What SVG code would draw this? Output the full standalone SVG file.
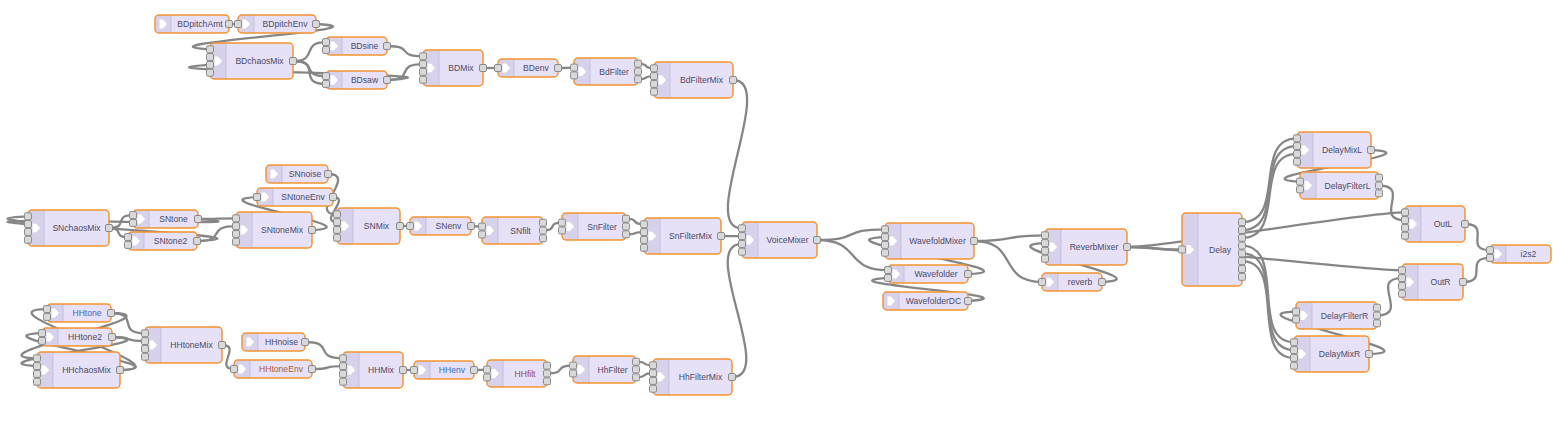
<svg xmlns="http://www.w3.org/2000/svg" xmlns:xlink="http://www.w3.org/1999/xlink" width="1568" height="440" viewBox="0 0 1568 440">
<style>
.b{fill:#e6e1f7}
.o{fill:none;stroke:#f5922f;stroke-width:1.5}
.ic{fill:#d7d1ec}
.dv{stroke:#c6bfdf;stroke-width:1;fill:none}
.w{fill:none;stroke:#868686;stroke-width:2.3}
.t{font-family:"Liberation Sans",Arial,sans-serif;font-size:8.6px;fill:#4c4a66;text-anchor:middle;dominant-baseline:central;font-variant-ligatures:none}
.blue{fill:#3f68c2}
.brn{fill:#b0601f}
.red{fill:#a04536}
</style>
<defs>
<rect id="p" x="-3.5" y="-3.5" width="7" height="7" rx="1.5" fill="#d9d9d9" stroke="#8a8a8a" stroke-width="1"/>
<path id="ar" d="M-3.5,-4.5H0L4,0L0,4.5H-3.5Z" fill="#ffffff"/>
<g id="ic18"><path class="ic" d="M4,0H16V18H4A4,4 0 0 1 0,14V4A4,4 0 0 1 4,0Z"/><path class="dv" d="M16,0V18"/><use href="#ar" x="8" y="9"/></g>
<g id="ic27"><path class="ic" d="M4,0H16V27H4A4,4 0 0 1 0,23V4A4,4 0 0 1 4,0Z"/><path class="dv" d="M16,0V27"/><use href="#ar" x="8" y="13.5"/></g>
<g id="ic36"><path class="ic" d="M4,0H16V36H4A4,4 0 0 1 0,32V4A4,4 0 0 1 4,0Z"/><path class="dv" d="M16,0V36"/><use href="#ar" x="8" y="18"/></g>
<g id="ic73"><path class="ic" d="M4,0H16V73H4A4,4 0 0 1 0,69V4A4,4 0 0 1 4,0Z"/><path class="dv" d="M16,0V73"/><use href="#ar" x="8" y="36.5"/></g>
<g id="in4"><use href="#p" y="6.3"/><use href="#p" y="14.1"/><use href="#p" y="21.9"/><use href="#p" y="29.7"/></g>
<g id="in2s"><use href="#p" y="5.1"/><use href="#p" y="12.9"/></g>
<g id="in2m"><use href="#p" y="9.6"/><use href="#p" y="17.4"/></g>
<g id="out3"><use href="#p" y="5.7"/><use href="#p" y="13.5"/><use href="#p" y="21.3"/></g>
</defs>

<g id="connectors">
<path class="w" d="M229 24 C235.75 24 231.25 24 238 24"/>
<path class="w" d="M316 24 C403.4 28.8 122.6 44.5 210 49.3"/>
<path class="w" d="M293 61 C319 61 300 42.1 326 42.1"/>
<path class="w" d="M293 61 C320.2 61 298.8 76.1 326 76.1"/>
<path class="w" d="M293 61 C323.1 61 295.9 83.9 326 83.9"/>
<path class="w" d="M387 46 C415.1 46 394.9 56.3 423 56.3"/>
<path class="w" d="M387 80 C416.5 80 393.5 64.1 423 64.1"/>
<path class="w" d="M387 80 C502.8 73.5 94.2 71.4 210 64.9"/>
<path class="w" d="M483 68 C494 68 487 68 498 68"/>
<path class="w" d="M558 68 C570 68 562 67.6 574 67.6"/>
<path class="w" d="M638 63.7 C650.5 63.7 641.5 68.3 654 68.3"/>
<path class="w" d="M638 79.3 C650.2 79.3 641.8 76.1 654 76.1"/>
<path class="w" d="M733 80 C778 80 697 228.3 742 228.3"/>

<path class="w" d="M109 228 C129.4 228 112.6 215.1 133 215.1"/>
<path class="w" d="M109 228 C124.8 228 112.2 237.1 128 237.1"/>
<path class="w" d="M198 219 C226.5 219 207.5 218.3 236 218.3"/>
<path class="w" d="M197 241 C228.3 241 204.7 226.1 236 226.1"/>
<path class="w" d="M197 241 C309.6 236.1 -84.6 221.2 28 216.3"/>
<path class="w" d="M198 219 C311 227.2 -85 216 28 224.1"/>
<path class="w" d="M312 230 C379 226.8 190 200.2 257 197"/>
<path class="w" d="M328 174 C359 174 306 214.3 337 214.3"/>
<path class="w" d="M333 197 C352.1 197 317.9 222.1 337 222.1"/>
<path class="w" d="M400 226 C407.5 226 402.5 226 410 226"/>
<path class="w" d="M471 226 C479 226 474 226.6 482 226.6"/>
<path class="w" d="M543 230.5 C558.4 230.5 546.6 222.6 562 222.6"/>
<path class="w" d="M626 218.7 C640.1 218.7 629.9 224.3 644 224.3"/>
<path class="w" d="M626 234.3 C639.6 234.3 630.4 232.1 644 232.1"/>
<path class="w" d="M721 236 C736.75 236 726.25 236.1 742 236.1"/>

<path class="w" d="M120 370 C194.2 370 -27.2 309.1 47 309.1"/>
<path class="w" d="M120 370 C196.2 367.15 -34.2 335.95 42 333.1"/>
<path class="w" d="M111 313 C140.7 313 115.3 333.3 145 333.3"/>
<path class="w" d="M112 337 C137 337 120 341.1 145 341.1"/>
<path class="w" d="M111 313 C185.6 314.45 -37.6 356.85 37 358.3"/>
<path class="w" d="M112 337 C187 341.15 -38 361.95 37 366.1"/>
<path class="w" d="M222 345 C242.1 345 213.9 369 234 369"/>
<path class="w" d="M305 342 C336 342 312 358.3 343 358.3"/>
<path class="w" d="M312 369 C335.3 369 319.7 366.1 343 366.1"/>
<path class="w" d="M403 370 C411 370 406 370 414 370"/>
<path class="w" d="M474 370 C483.5 370 477.5 369.6 487 369.6"/>
<path class="w" d="M547 373.5 C567.4 373.5 552.6 365.6 573 365.6"/>
<path class="w" d="M636 361.7 C649 361.7 640 365.3 653 365.3"/>
<path class="w" d="M636 377.3 C649.1 377.3 639.9 373.1 653 373.1"/>
<path class="w" d="M732 377 C777 377 697 243.9 742 243.9"/>

<path class="w" d="M817 240 C862 240 840 229.3 885 229.3"/>
<path class="w" d="M817 240 C862 240 843 270.1 888 270.1"/>
<path class="w" d="M968 274 C1046.2 271.15 806.8 239.95 885 237.1"/>
<path class="w" d="M968 301 C1045 295.85 811 283.05 888 277.9"/>
<path class="w" d="M974 241 C1019 241 1000 235.3 1045 235.3"/>
<path class="w" d="M974 241 C1019 241 997 282 1042 282"/>
<path class="w" d="M1102 282 C1169.8 279.6 977.2 245.5 1045 243.1"/>
<path class="w" d="M1127 247 C1168.3 247 1140.7 249.5 1182 249.5"/>
<path class="w" d="M1127 247 C1172 247 1360 212.3 1405 212.3"/>
<path class="w" d="M1127 247 C1172 247 1357 270.3 1402 270.3"/>

<path class="w" d="M1242 222.2 C1287 222.2 1252 138.3 1297 138.3"/>
<path class="w" d="M1242 230 C1287 230 1252 146.1 1297 146.1"/>
<path class="w" d="M1242 237.8 C1287 237.8 1252 153.9 1297 153.9"/>
<path class="w" d="M1242 245.6 C1287 245.6 1249 342.3 1294 342.3"/>
<path class="w" d="M1242 253.4 C1287 253.4 1249 350.1 1294 350.1"/>
<path class="w" d="M1242 261.2 C1287 261.2 1249 357.9 1294 357.9"/>
<path class="w" d="M1371 150 C1444.4 153.73 1226.6 177.87 1300 181.6"/>
<path class="w" d="M1379 185.5 C1411.5 185.5 1372.5 220.1 1405 220.1"/>
<path class="w" d="M1369 354 C1443.2 352.07 1221.8 313.53 1296 311.6"/>
<path class="w" d="M1377 315.5 C1410.7 315.5 1368.3 278.1 1402 278.1"/>
<path class="w" d="M1465 224 C1492.1 224 1462.9 250.1 1490 250.1"/>
<path class="w" d="M1463 282 C1490.1 282 1462.9 257.9 1490 257.9"/>
</g>

<g id="BDpitchAmt" transform="translate(155,15)"><rect class="b" width="74" height="18" rx="4"/><use href="#ic18"/><rect class="o" width="74" height="18" rx="4"/><text class="t" x="45" y="9">BDpitchAmt</text><use href="#p" x="74" y="9"/></g>
<g id="BDpitchEnv" transform="translate(238,15)"><rect class="b" width="78" height="18" rx="4"/><use href="#ic18"/><rect class="o" width="78" height="18" rx="4"/><text class="t" x="47" y="9">BDpitchEnv</text><use href="#p" y="9"/><use href="#p" x="78" y="9"/></g>
<g id="BDchaosMix" transform="translate(210,43)"><rect class="b" width="83" height="36" rx="4"/><use href="#ic36"/><rect class="o" width="83" height="36" rx="4"/><text class="t" x="49.5" y="18">BDchaosMix</text><use href="#in4"/><use href="#p" x="83" y="18"/></g>
<g id="BDsine" transform="translate(326,37)"><rect class="b" width="61" height="18" rx="4"/><use href="#ic18"/><rect class="o" width="61" height="18" rx="4"/><text class="t" x="38.5" y="9">BDsine</text><use href="#in2s"/><use href="#p" x="61" y="9"/></g>
<g id="BDsaw" transform="translate(326,71)"><rect class="b" width="61" height="18" rx="4"/><use href="#ic18"/><rect class="o" width="61" height="18" rx="4"/><text class="t" x="38.5" y="9">BDsaw</text><use href="#in2s"/><use href="#p" x="61" y="9"/></g>
<g id="BDMix" transform="translate(423,50)"><rect class="b" width="60" height="36" rx="4"/><use href="#ic36"/><rect class="o" width="60" height="36" rx="4"/><text class="t" x="38" y="18">BDMix</text><use href="#in4"/><use href="#p" x="60" y="18"/></g>
<g id="BDenv" transform="translate(498,59)"><rect class="b" width="60" height="18" rx="4"/><use href="#ic18"/><rect class="o" width="60" height="18" rx="4"/><text class="t" x="38" y="9">BDenv</text><use href="#p" y="9"/><use href="#p" x="60" y="9"/></g>
<g id="BdFilter" transform="translate(574,58)"><rect class="b" width="64" height="27" rx="4"/><use href="#ic27"/><rect class="o" width="64" height="27" rx="4"/><text class="t" x="40" y="13.5">BdFilter</text><use href="#in2m"/><use href="#out3" x="64"/></g>
<g id="BdFilterMix" transform="translate(654,62)"><rect class="b" width="79" height="36" rx="4"/><use href="#ic36"/><rect class="o" width="79" height="36" rx="4"/><text class="t" x="47.5" y="18">BdFilterMix</text><use href="#in4"/><use href="#p" x="79" y="18"/></g>

<g id="SNchaosMix" transform="translate(28,210)"><rect class="b" width="81" height="36" rx="4"/><use href="#ic36"/><rect class="o" width="81" height="36" rx="4"/><text class="t" x="48.5" y="18">SNchaosMix</text><use href="#in4"/><use href="#p" x="81" y="18"/></g>
<g id="SNtone" transform="translate(133,210)"><rect class="b" width="65" height="18" rx="4"/><use href="#ic18"/><rect class="o" width="65" height="18" rx="4"/><text class="t" x="40.5" y="9">SNtone</text><use href="#in2s"/><use href="#p" x="65" y="9"/></g>
<g id="SNtone2" transform="translate(128,232)"><rect class="b" width="69" height="18" rx="4"/><use href="#ic18"/><rect class="o" width="69" height="18" rx="4"/><text class="t" x="42.5" y="9">SNtone2</text><use href="#in2s"/><use href="#p" x="69" y="9"/></g>
<g id="SNtoneMix" transform="translate(236,212)"><rect class="b" width="76" height="36" rx="4"/><use href="#ic36"/><rect class="o" width="76" height="36" rx="4"/><text class="t" x="46" y="18">SNtoneMix</text><use href="#in4"/><use href="#p" x="76" y="18"/></g>
<g id="SNnoise" transform="translate(266,165)"><rect class="b" width="62" height="18" rx="4"/><use href="#ic18"/><rect class="o" width="62" height="18" rx="4"/><text class="t" x="39" y="9">SNnoise</text><use href="#p" x="62" y="9"/></g>
<g id="SNtoneEnv" transform="translate(257,188)"><rect class="b" width="76" height="18" rx="4"/><use href="#ic18"/><rect class="o" width="76" height="18" rx="4"/><text class="t" x="46" y="9">SNtoneEnv</text><use href="#p" y="9"/><use href="#p" x="76" y="9"/></g>
<g id="SNMix" transform="translate(337,208)"><rect class="b" width="63" height="36" rx="4"/><use href="#ic36"/><rect class="o" width="63" height="36" rx="4"/><text class="t" x="39.5" y="18">SNMix</text><use href="#in4"/><use href="#p" x="63" y="18"/></g>
<g id="SNenv" transform="translate(410,217)"><rect class="b" width="61" height="18" rx="4"/><use href="#ic18"/><rect class="o" width="61" height="18" rx="4"/><text class="t" x="38.5" y="9">SNenv</text><use href="#p" y="9"/><use href="#p" x="61" y="9"/></g>
<g id="SNfilt" transform="translate(482,217)"><rect class="b" width="61" height="27" rx="4"/><use href="#ic27"/><rect class="o" width="61" height="27" rx="4"/><text class="t" x="38.5" y="13.5">SNfilt</text><use href="#in2m"/><use href="#out3" x="61"/></g>
<g id="SnFilter" transform="translate(562,213)"><rect class="b" width="64" height="27" rx="4"/><use href="#ic27"/><rect class="o" width="64" height="27" rx="4"/><text class="t" x="40" y="13.5">SnFilter</text><use href="#in2m"/><use href="#out3" x="64"/></g>
<g id="SnFilterMix" transform="translate(644,218)"><rect class="b" width="77" height="36" rx="4"/><use href="#ic36"/><rect class="o" width="77" height="36" rx="4"/><text class="t" x="46.5" y="18">SnFilterMix</text><use href="#in4"/><use href="#p" x="77" y="18"/></g>

<g id="HHtone" transform="translate(47,304)"><rect class="b" width="64" height="18" rx="4"/><use href="#ic18"/><rect class="o" width="64" height="18" rx="4"/><text class="t blue" x="40" y="9">HHtone</text><use href="#in2s"/><use href="#p" x="64" y="9"/></g>
<g id="HHtone2" transform="translate(42,328)"><rect class="b" width="70" height="18" rx="4"/><use href="#ic18"/><rect class="o" width="70" height="18" rx="4"/><text class="t" x="43" y="9">HHtone2</text><use href="#in2s"/><use href="#p" x="70" y="9"/></g>
<g id="HHchaosMix" transform="translate(37,352)"><rect class="b" width="83" height="36" rx="4"/><use href="#ic36"/><rect class="o" width="83" height="36" rx="4"/><text class="t" x="49.5" y="18">HHchaosMix</text><use href="#in4"/><use href="#p" x="83" y="18"/></g>
<g id="HHtoneMix" transform="translate(145,327)"><rect class="b" width="77" height="36" rx="4"/><use href="#ic36"/><rect class="o" width="77" height="36" rx="4"/><text class="t" x="46.5" y="18">HHtoneMix</text><use href="#in4"/><use href="#p" x="77" y="18"/></g>
<g id="HHnoise" transform="translate(242,333)"><rect class="b" width="63" height="18" rx="4"/><use href="#ic18"/><rect class="o" width="63" height="18" rx="4"/><text class="t" x="39.5" y="9">HHnoise</text><use href="#p" x="63" y="9"/></g>
<g id="HHtoneEnv" transform="translate(234,360)"><rect class="b" width="78" height="18" rx="4"/><use href="#ic18"/><rect class="o" width="78" height="18" rx="4"/><text class="t brn" x="47" y="9">HHtoneEnv</text><use href="#p" y="9"/><use href="#p" x="78" y="9"/></g>
<g id="HHMix" transform="translate(343,352)"><rect class="b" width="60" height="36" rx="4"/><use href="#ic36"/><rect class="o" width="60" height="36" rx="4"/><text class="t" x="38" y="18">HHMix</text><use href="#in4"/><use href="#p" x="60" y="18"/></g>
<g id="HHenv" transform="translate(414,361)"><rect class="b" width="60" height="18" rx="4"/><use href="#ic18"/><rect class="o" width="60" height="18" rx="4"/><text class="t blue" x="38" y="9">HHenv</text><use href="#p" y="9"/><use href="#p" x="60" y="9"/></g>
<g id="HHfilt" transform="translate(487,360)"><rect class="b" width="60" height="27" rx="4"/><use href="#ic27"/><rect class="o" width="60" height="27" rx="4"/><text class="t red" x="38" y="13.5">HHfilt</text><use href="#in2m"/><use href="#out3" x="60"/></g>
<g id="HhFilter" transform="translate(573,356)"><rect class="b" width="63" height="27" rx="4"/><use href="#ic27"/><rect class="o" width="63" height="27" rx="4"/><text class="t" x="39.5" y="13.5">HhFilter</text><use href="#in2m"/><use href="#out3" x="63"/></g>
<g id="HhFilterMix" transform="translate(653,359)"><rect class="b" width="79" height="36" rx="4"/><use href="#ic36"/><rect class="o" width="79" height="36" rx="4"/><text class="t" x="47.5" y="18">HhFilterMix</text><use href="#in4"/><use href="#p" x="79" y="18"/></g>

<g id="VoiceMixer" transform="translate(742,222)"><rect class="b" width="75" height="36" rx="4"/><use href="#ic36"/><rect class="o" width="75" height="36" rx="4"/><text class="t" x="45.5" y="18">VoiceMixer</text><use href="#in4"/><use href="#p" x="75" y="18"/></g>
<g id="WavefoldMixer" transform="translate(885,223)"><rect class="b" width="89" height="36" rx="4"/><use href="#ic36"/><rect class="o" width="89" height="36" rx="4"/><text class="t" x="52.5" y="18">WavefoldMixer</text><use href="#in4"/><use href="#p" x="89" y="18"/></g>
<g id="Wavefolder" transform="translate(888,265)"><rect class="b" width="80" height="18" rx="4"/><use href="#ic18"/><rect class="o" width="80" height="18" rx="4"/><text class="t" x="48" y="9">Wavefolder</text><use href="#in2s"/><use href="#p" x="80" y="9"/></g>
<g id="WavefolderDC" transform="translate(883,292)"><rect class="b" width="85" height="18" rx="4"/><use href="#ic18"/><rect class="o" width="85" height="18" rx="4"/><text class="t" x="50.5" y="9">WavefolderDC</text><use href="#p" x="85" y="9"/></g>
<g id="ReverbMixer" transform="translate(1045,229)"><rect class="b" width="82" height="36" rx="4"/><use href="#ic36"/><rect class="o" width="82" height="36" rx="4"/><text class="t" x="49" y="18">ReverbMixer</text><use href="#in4"/><use href="#p" x="82" y="18"/></g>
<g id="reverb" transform="translate(1042,273)"><rect class="b" width="60" height="18" rx="4"/><use href="#ic18"/><rect class="o" width="60" height="18" rx="4"/><text class="t" x="38" y="9">reverb</text><use href="#p" y="9"/><use href="#p" x="60" y="9"/></g>
<g id="Delay" transform="translate(1182,213)"><rect class="b" width="60" height="73" rx="4"/><use href="#ic73"/><rect class="o" width="60" height="73" rx="4"/><text class="t" x="38" y="36.5">Delay</text><use href="#p" y="36.5"/><use href="#p" x="60" y="9.2"/><use href="#p" x="60" y="17"/><use href="#p" x="60" y="24.8"/><use href="#p" x="60" y="32.6"/><use href="#p" x="60" y="40.4"/><use href="#p" x="60" y="48.2"/><use href="#p" x="60" y="56"/><use href="#p" x="60" y="63.8"/></g>
<g id="DelayMixL" transform="translate(1297,132)"><rect class="b" width="74" height="36" rx="4"/><use href="#ic36"/><rect class="o" width="74" height="36" rx="4"/><text class="t" x="45" y="18">DelayMixL</text><use href="#in4"/><use href="#p" x="74" y="18"/></g>
<g id="DelayFilterL" transform="translate(1300,172)"><rect class="b" width="79" height="27" rx="4"/><use href="#ic27"/><rect class="o" width="79" height="27" rx="4"/><text class="t" x="47.5" y="13.5">DelayFilterL</text><use href="#in2m"/><use href="#out3" x="79"/></g>
<g id="OutL" transform="translate(1405,206)"><rect class="b" width="60" height="36" rx="4"/><use href="#ic36"/><rect class="o" width="60" height="36" rx="4"/><text class="t" x="38" y="18">OutL</text><use href="#in4"/><use href="#p" x="60" y="18"/></g>
<g id="OutR" transform="translate(1402,264)"><rect class="b" width="61" height="36" rx="4"/><use href="#ic36"/><rect class="o" width="61" height="36" rx="4"/><text class="t" x="38.5" y="18">OutR</text><use href="#in4"/><use href="#p" x="61" y="18"/></g>
<g id="i2s2" transform="translate(1490,245)"><rect class="b" width="61" height="18" rx="4"/><use href="#ic18"/><rect class="o" width="61" height="18" rx="4"/><text class="t" x="38.5" y="9">i2s2</text><use href="#in2s"/></g>
<g id="DelayFilterR" transform="translate(1296,302)"><rect class="b" width="81" height="27" rx="4"/><use href="#ic27"/><rect class="o" width="81" height="27" rx="4"/><text class="t" x="48.5" y="13.5">DelayFilterR</text><use href="#in2m"/><use href="#out3" x="81"/></g>
<g id="DelayMixR" transform="translate(1294,336)"><rect class="b" width="75" height="36" rx="4"/><use href="#ic36"/><rect class="o" width="75" height="36" rx="4"/><text class="t" x="45.5" y="18">DelayMixR</text><use href="#in4"/><use href="#p" x="75" y="18"/></g>
</svg>
